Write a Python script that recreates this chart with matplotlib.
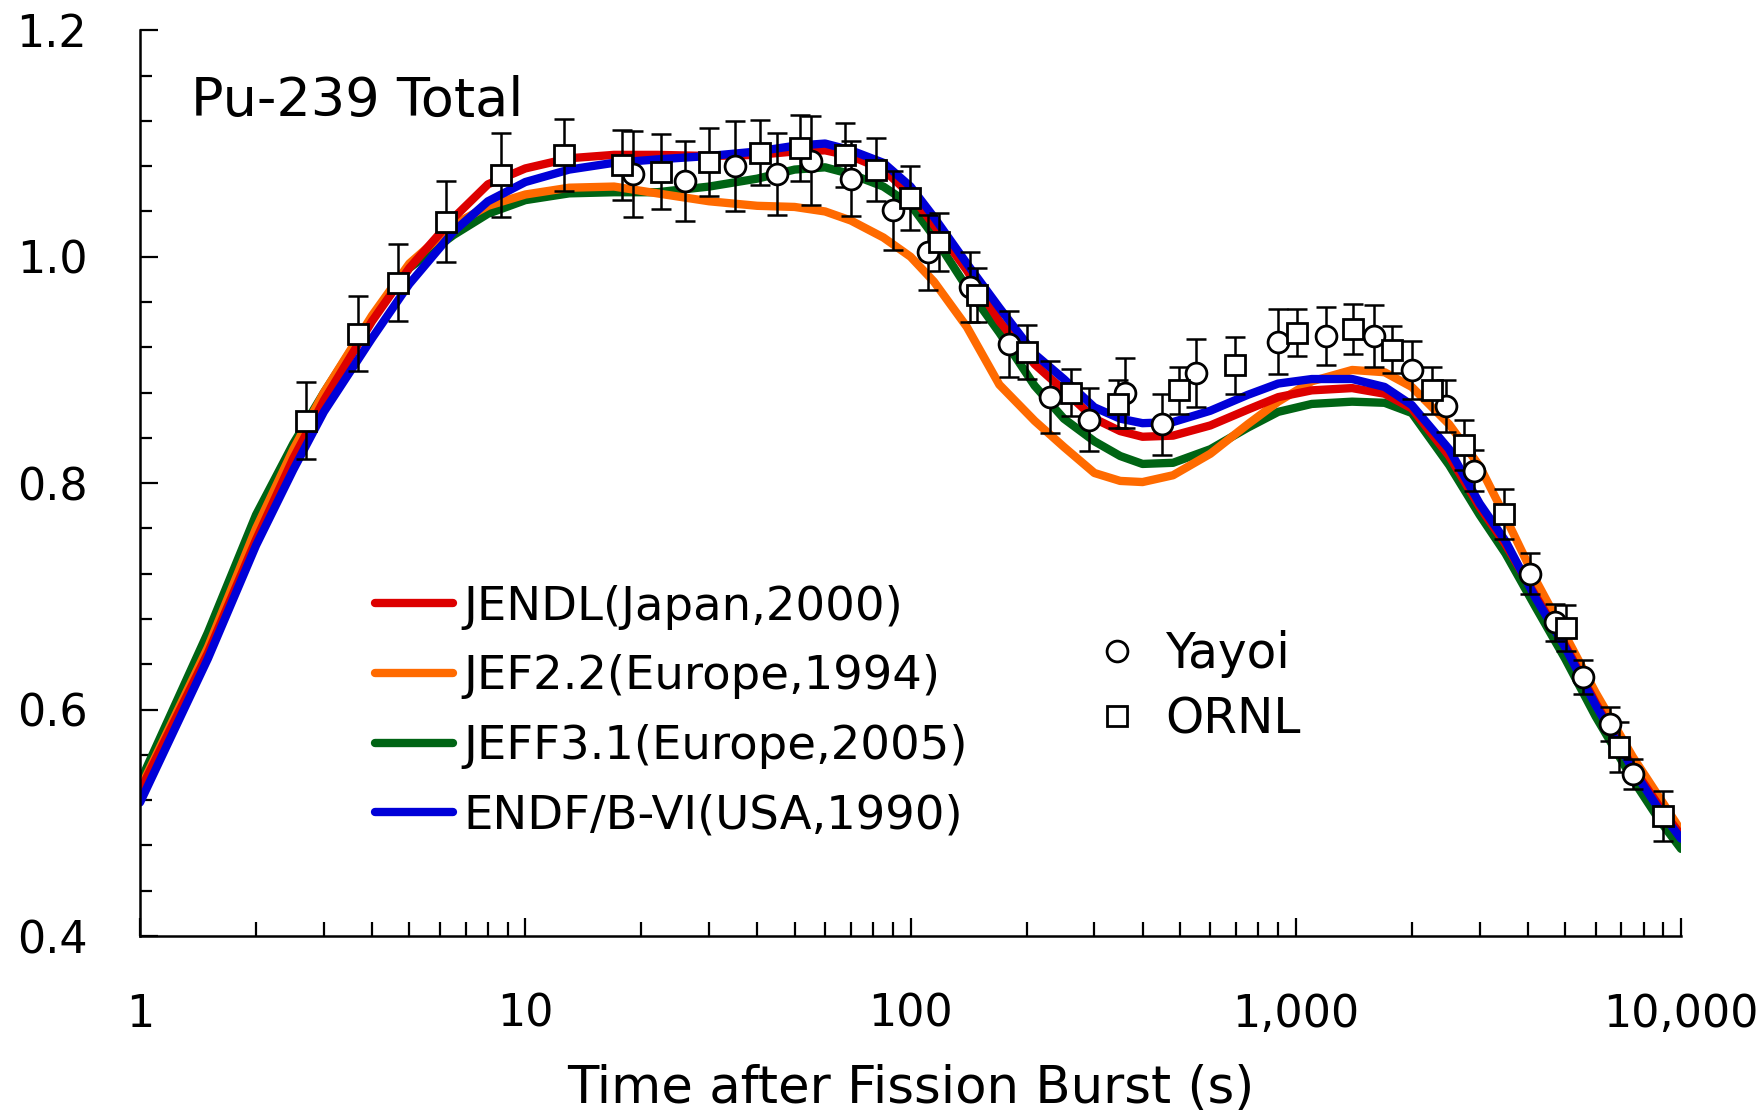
import matplotlib.pyplot as plt
from matplotlib.lines import Line2D
from matplotlib.ticker import MultipleLocator, LogLocator, NullFormatter

plt.rcParams['font.family'] = ['DejaVu Sans']

# calculated curves (time in s)
t_model = [1, 1.5, 2, 2.5, 3, 4, 5, 6.5, 8, 10, 13, 17, 22, 30, 40, 50, 60, 70, 85, 100,
           115, 140, 170, 210, 250, 300, 350, 400, 480, 600, 750, 900, 1100, 1400, 1700, 2000,
           2500, 3000, 3500, 4200, 5000, 6000, 7500, 8800, 10000]
jendl = [0.528, 0.650, 0.750, 0.822, 0.873, 0.943, 0.990, 1.034, 1.064, 1.078, 1.087, 1.090, 1.090,
         1.089, 1.090, 1.093, 1.094, 1.089, 1.077, 1.055, 1.028, 0.988, 0.943, 0.905, 0.882, 0.857,
         0.846, 0.841, 0.842, 0.851, 0.865, 0.876, 0.882, 0.884, 0.879, 0.866, 0.824, 0.779, 0.746,
         0.700, 0.657, 0.606, 0.549, 0.514, 0.489]
jef22 = [0.530, 0.655, 0.760, 0.830, 0.880, 0.948, 0.994, 1.028, 1.045, 1.055, 1.061, 1.062, 1.056,
         1.049, 1.045, 1.044, 1.040, 1.032, 1.017, 1.000, 0.978, 0.938, 0.887, 0.855, 0.832, 0.809,
         0.802, 0.801, 0.807, 0.826, 0.852, 0.872, 0.890, 0.900, 0.898, 0.885, 0.852, 0.815, 0.770,
         0.714, 0.666, 0.615, 0.558, 0.522, 0.493]
jeff31 = [0.536, 0.668, 0.772, 0.835, 0.880, 0.946, 0.990, 1.019, 1.038, 1.050, 1.056, 1.057, 1.057,
          1.062, 1.069, 1.077, 1.079, 1.073, 1.062, 1.046, 1.018, 0.973, 0.933, 0.886, 0.857, 0.837,
          0.824, 0.817, 0.818, 0.830, 0.849, 0.863, 0.870, 0.872, 0.871, 0.862, 0.816, 0.772, 0.738,
          0.690, 0.645, 0.594, 0.538, 0.502, 0.477]
endfb6 = [0.518, 0.645, 0.745, 0.812, 0.863, 0.928, 0.976, 1.022, 1.049, 1.066, 1.077, 1.083, 1.086,
          1.089, 1.093, 1.098, 1.100, 1.094, 1.083, 1.062, 1.035, 0.994, 0.955, 0.914, 0.892, 0.867,
          0.857, 0.853, 0.854, 0.864, 0.878, 0.888, 0.892, 0.892, 0.885, 0.869, 0.830, 0.782, 0.749,
          0.698, 0.655, 0.604, 0.547, 0.511, 0.486]

# measurements
t_yayoi = [19, 26, 35, 45, 55, 70, 90, 111, 143, 180, 230, 290, 360, 450, 550, 900, 1200, 1600,
           2000, 2450, 2900, 4050, 4700, 5550, 6550, 7500]
yayoi = [1.073, 1.067, 1.080, 1.073, 1.085, 1.069, 1.041, 1.004, 0.973, 0.923, 0.876, 0.856, 0.880,
         0.852, 0.897, 0.925, 0.930, 0.930, 0.900, 0.868, 0.811, 0.720, 0.677, 0.629, 0.587, 0.543]
yayoi_err = [0.038, 0.035, 0.040, 0.036, 0.039, 0.033, 0.035, 0.033, 0.031, 0.029, 0.032, 0.028, 0.031,
             0.027, 0.030, 0.029, 0.026, 0.027, 0.026, 0.023, 0.018, 0.018, 0.016, 0.015, 0.015, 0.013]

t_ornl = [2.7, 3.67, 4.67, 6.23, 8.64, 12.6, 17.8, 22.5, 29.9, 40.6, 51.7, 67.6, 81.5, 99.7, 118.6,
          149, 200, 261, 346, 498, 696, 1005, 1405, 1775, 2260, 2728, 3470, 5012, 6918, 8980]
ornl = [0.855, 0.932, 0.977, 1.031, 1.072, 1.090, 1.081, 1.075, 1.084, 1.092, 1.096, 1.090, 1.077,
        1.052, 1.013, 0.966, 0.916, 0.880, 0.870, 0.882, 0.904, 0.933, 0.936, 0.918, 0.882, 0.834,
        0.773, 0.672, 0.567, 0.506]
ornl_err = [0.034, 0.033, 0.034, 0.036, 0.037, 0.032, 0.031, 0.033, 0.030, 0.029, 0.029, 0.028, 0.028,
            0.028, 0.026, 0.024, 0.024, 0.021, 0.021, 0.021, 0.025, 0.021, 0.022, 0.021, 0.021, 0.022,
            0.022, 0.020, 0.022, 0.022]

fig = plt.figure(figsize=(17.57, 11.15), dpi=100)
ax = fig.add_axes([0.0797, 0.1605, 0.8771, 0.8123])

lw = 6
l_green, = ax.plot(t_model, jeff31, color='#006414', lw=lw, zorder=2, solid_capstyle='round')
l_orange, = ax.plot(t_model, jef22, color='#ff6a00', lw=lw, zorder=2, solid_capstyle='round')
l_red, = ax.plot(t_model, jendl, color='#dd0000', lw=lw, zorder=2, solid_capstyle='round')
l_blue, = ax.plot(t_model, endfb6, color='#0000d8', lw=lw, zorder=2, solid_capstyle='round')

eb = dict(fmt='none', ecolor='black', elinewidth=1.8, capsize=7, capthick=1.8, zorder=3)
ax.errorbar(t_yayoi, yayoi, yerr=yayoi_err, **eb)
ax.errorbar(t_ornl, ornl, yerr=ornl_err, **eb)
mk = dict(ls='none', mfc='white', mec='black', mew=2, ms=15, zorder=4)
ax.plot(t_yayoi, yayoi, marker='o', **mk)
ax.plot(t_ornl, ornl, marker='s', **mk)

ax.set_xscale('log')
ax.set_xlim(1, 10000)
ax.set_ylim(0.4, 1.2)
ax.set_xticks([1, 10, 100, 1000, 10000])
ax.set_xticklabels(['1', '10', '100', '1,000', '10,000'])
ax.xaxis.set_minor_locator(LogLocator(base=10, subs=range(2, 10)))
ax.xaxis.set_minor_formatter(NullFormatter())
ax.yaxis.set_minor_locator(MultipleLocator(0.04))
ax.set_yticks([0.4, 0.6, 0.8, 1.0, 1.2])
ax.set_yticklabels(['0.4', '0.6', '0.8', '1.0', '1.2'])

ax.tick_params(which='both', direction='in', width=1.6, labelsize=32)
ax.tick_params(which='major', length=13)
ax.tick_params(axis='y', which='major', pad=38)
ax.tick_params(axis='x', which='major', pad=41)
ax.tick_params(which='minor', length=8.5)
ax.tick_params(axis='x', which='minor', length=10)
for s in ['top', 'right']:
    ax.spines[s].set_visible(False)
for s in ['left', 'bottom']:
    ax.spines[s].set_linewidth(1.8)

ax.set_xlabel('Time after Fission Burst (s)', fontsize=37, labelpad=20)
ax.text(0.033, 0.922, 'Pu-239 Total', transform=ax.transAxes, va='center', fontsize=39)

leg1 = ax.legend([l_red, l_orange, l_green, l_blue],
                 ['JENDL(Japan,2000)', 'JEF2.2(Europe,1994)', 'JEFF3.1(Europe,2005)', 'ENDF/B-VI(USA,1990)'],
                 loc='upper left', bbox_to_anchor=(0.1525, 0.388), frameon=False, fontsize=33.5,
                 handlelength=1.67, handletextpad=0.23, labelspacing=0.53, borderpad=0, borderaxespad=0)
ax.add_artist(leg1)
h_y = Line2D([], [], marker='o', **mk)
h_o = Line2D([], [], marker='s', **mk)
ax.legend([h_y, h_o], ['Yayoi', 'ORNL'], loc='upper left', bbox_to_anchor=(0.620, 0.338),
          frameon=False, fontsize=35, handlelength=0.886, handletextpad=0.55, labelspacing=0.36,
          borderpad=0, borderaxespad=0)

fig.savefig('out.png', dpi=100)
